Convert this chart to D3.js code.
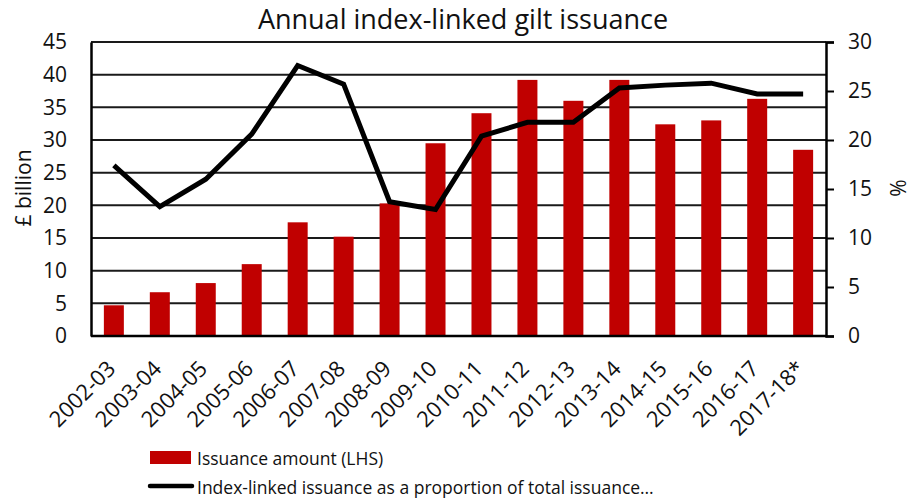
<!DOCTYPE html>
<html><head><meta charset="utf-8">
<script src="https://cdn.jsdelivr.net/npm/d3@7"></script>
<style>body{margin:0;background:#fff;} text{font-family:"Open Sans","Noto Sans",sans-serif;fill:#111;}</style>
</head><body><svg id="c" width="911" height="500"></svg>
<script>
const categories = ["2002-03","2003-04","2004-05","2005-06","2006-07","2007-08","2008-09","2009-10","2010-11","2011-12","2012-13","2013-14","2014-15","2015-16","2016-17","2017-18*"];
const issuance = [4.7,6.7,8.1,11.0,17.4,15.2,20.3,29.5,34.1,39.2,36.0,39.2,32.4,33.0,36.3,28.5];
const proportion = [17.4,13.2,16.0,20.6,27.6,25.7,13.7,12.9,20.4,21.8,21.8,25.3,25.6,25.8,24.7,24.7];
const leftTicks = [0,5,10,15,20,25,30,35,40,45];
const rightTicks = [0,5,10,15,20,25,30];

const svg = d3.select("#c");
const L=91,R=826,T=42,B=336;
const x = d3.scaleBand().domain(categories).range([L,R]).paddingInner(0.565).paddingOuter(0.28);
const y = d3.scaleLinear().domain([0,45]).range([B,T]);
const y2 = d3.scaleLinear().domain([0,30]).range([B,T]);

// gridlines
svg.append("g").selectAll("line").data(leftTicks).join("line")
  .attr("x1",L).attr("x2",R).attr("y1",d=>y(d)).attr("y2",d=>y(d))
  .attr("stroke","#1a1a1a").attr("stroke-width",2);

// bars
svg.append("g").selectAll("rect").data(issuance).join("rect")
  .attr("x",(d,i)=>x(categories[i])).attr("width",x.bandwidth())
  .attr("y",d=>y(d)).attr("height",d=>B-y(d)).attr("fill","#C00000");

// left axis
const ga = svg.append("g").attr("transform",`translate(${L},0)`)
  .call(d3.axisLeft(y).tickValues(leftTicks).tickSize(0).tickPadding(24));
ga.select(".domain").attr("stroke","#000").attr("stroke-width",2.5);
ga.selectAll("text").style("font-size","21px").attr("fill","#222");

// right axis
const gr = svg.append("g").attr("transform",`translate(${R},0)`)
  .call(d3.axisRight(y2).tickValues(rightTicks).tickSize(8).tickPadding(14));
gr.select(".domain").attr("stroke","#000").attr("stroke-width",2.5);
gr.selectAll(".tick line").attr("stroke","#000").attr("stroke-width",2);
gr.selectAll("text").style("font-size","21px").attr("fill","#222");

// bottom line
svg.append("line").attr("x1",L).attr("x2",R).attr("y1",B).attr("y2",B).attr("stroke","#000").attr("stroke-width",2.5);

// x labels
svg.append("g").selectAll("text").data(categories).join("text")
  .attr("transform",d=>`translate(${x(d)+x.bandwidth()/2+3},${B+34}) rotate(-45)`)
  .attr("text-anchor","end").style("font-size","22px").text(d=>d);

// line
const line = d3.line().x((d,i)=>x(categories[i])+x.bandwidth()/2).y(d=>y2(d));
svg.append("path").datum(proportion).attr("d",line).attr("fill","none")
  .attr("stroke","#000").attr("stroke-width",5).attr("stroke-linejoin","miter");

// title
svg.append("text").attr("x",463).attr("y",29).attr("text-anchor","middle").style("font-size","27px").text("Annual index-linked gilt issuance");

// axis titles
svg.append("text").attr("transform","translate(31,188) rotate(-90)").attr("text-anchor","middle").style("font-size","21px").text("£ billion");
svg.append("text").attr("transform","translate(906,188) rotate(-90)").attr("text-anchor","middle").style("font-size","21px").text("%");

// legend
svg.append("rect").attr("x",150).attr("y",451).attr("width",41).attr("height",13).attr("fill","#C00000");
svg.append("text").attr("x",197).attr("y",465).style("font-size","17.5px").text("Issuance amount (LHS)");
svg.append("line").attr("x1",150).attr("x2",192).attr("y1",486).attr("y2",486).attr("stroke","#000").attr("stroke-width",4.5).attr("stroke-linecap","round");
svg.append("text").attr("x",197).attr("y",494).style("font-size","17.5px").text("Index-linked issuance as a proportion of total issuance…");
</script></body></html>
